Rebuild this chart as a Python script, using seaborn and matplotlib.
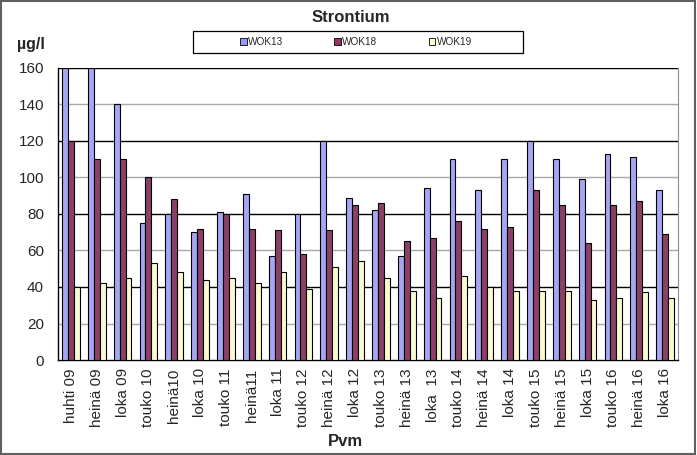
import matplotlib
matplotlib.use("Agg")
import matplotlib.pyplot as plt
import seaborn as sns
import pandas as pd
import numpy as np
from matplotlib.patches import Rectangle, Patch

categories = ["huhti 09", "heinä 09", "loka 09", "touko 10", "heinä10", "loka 10",
              "touko 11", "heinä11", "loka 11", "touko 12", "heinä 12", "loka 12",
              "touko 13", "heinä 13", "loka  13", "touko 14", "heinä 14", "loka 14",
              "touko 15", "heinä 15", "loka 15", "touko 16", "heinä 16", "loka 16"]
wok13 = [160, 160, 140, 75, 80, 70, 81, 91, 57, 80, 120, 89,
         82, 57, 94, 110, 93, 110, 120, 110, 99, 113, 111, 93]
wok18 = [120, 110, 110, 100, 88, 72, 80, 72, 71, 58, 71, 85,
         86, 65, 67, 76, 72, 73, 93, 85, 64, 85, 87, 69]
wok19 = [40, 42, 45, 53, 48, 44, 45, 42, 48, 39, 51, 54,
         45, 38, 34, 46, 40, 38, 38, 38, 33, 34, 37, 34]
series_names = ["WOK13", "WOK18", "WOK19"]
yticks = [0, 20, 40, 60, 80, 100, 120, 140, 160]

sns.set_style("white")
plt.rcParams['font.family'] = ['Liberation Sans', 'DejaVu Sans']

df = pd.DataFrame({
    "Pvm": categories * 3,
    "value": wok13 + wok18 + wok19,
    "series": [series_names[0]] * len(categories) + [series_names[1]] * len(categories)
              + [series_names[2]] * len(categories),
})
colors = {"WOK13": "#9999FF", "WOK18": "#993366", "WOK19": "#FFFFCC"}

fig = plt.figure(figsize=(6.97, 4.55), dpi=100)
ax = fig.add_axes([58/697, 1-360/455, 620/697, 292/455])

sns.barplot(data=df, x="Pvm", y="value", hue="series", palette=colors,
            edgecolor="black", linewidth=0.8, width=0.68, gap=0,
            order=categories, hue_order=series_names, ax=ax, legend=False, zorder=3)

ax.set_ylim(0, 160)
ax.set_xlim(-0.5, len(categories) - 0.5)
ax.set_yticks(yticks)
ax.set_yticklabels([str(v) for v in yticks], fontsize=11)
for v in yticks[1:]:
    ax.axhline(v, color="black" if v % 40 == 0 else "#a8a8a8", lw=1.0, zorder=1)

ax.set_xticks(range(len(categories)))
ax.set_xticklabels(categories, rotation=90, fontsize=11)
ax.tick_params(axis="x", which="major", length=0, pad=6)
ax.set_xticks(np.arange(-0.5, len(categories), 1), minor=True)
ax.tick_params(axis="x", which="minor", length=4, direction="out", color="black")
ax.tick_params(axis="y", length=4, direction="out", color="black", pad=6)
ax.set_xlabel("")
ax.set_ylabel("")

for s in ["left", "bottom"]:
    ax.spines[s].set_color("black")
    ax.spines[s].set_linewidth(1.0)
ax.spines["top"].set_visible(False)
ax.spines["right"].set_color("#909090")

fig.text(351/697, 1-18/455, "Strontium", ha="center", va="center",
         fontsize=12, fontweight="bold")
fig.text(17/697, 1-45/455, "µg/l", ha="left", va="center",
         fontsize=11.5, fontweight="bold")
fig.text(345/697, 1-442/455, "Pvm", ha="center", va="center",
         fontsize=12, fontweight="bold")

# legend frame
fig.patches.append(Rectangle((193/697, 1-53/455), 330/697, 22/455, transform=fig.transFigure,
                             fill=False, edgecolor="black", lw=0.9))
handles = [Patch(facecolor=colors[n], edgecolor="black", linewidth=0.6) for n in series_names]
leg = fig.legend(handles, series_names, ncol=3, loc="center",
                 bbox_to_anchor=(356/697, 1-42/455),
                 fontsize=7.2, frameon=False,
                 handlelength=0.65, handleheight=0.65, handletextpad=0.15,
                 columnspacing=5.1, borderaxespad=0, borderpad=0)

fig.patches.append(Rectangle((0.0015, 0.002), 0.996, 0.995, transform=fig.transFigure,
                             fill=False, edgecolor="#606060", lw=1.5))

fig.savefig("out.png", dpi=100)
